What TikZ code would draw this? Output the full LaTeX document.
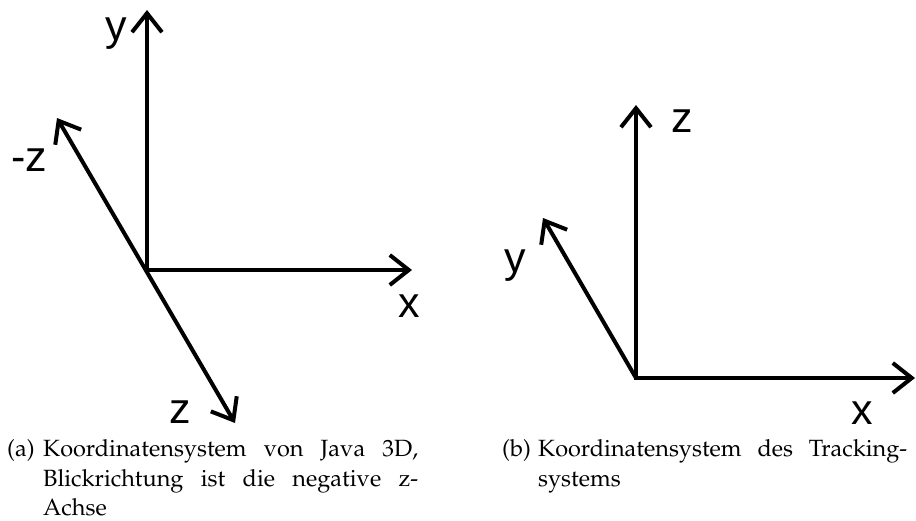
\documentclass[tikz,border=0pt]{standalone}
\usepackage[T1]{fontenc}
\usepackage{fontspec}
\newfontfamily\axisfont{Liberation Sans}
\newcommand\capfont{\fontencoding{T1}\fontfamily{ppl}\selectfont}
\usetikzlibrary{arrows.meta}
\tikzset{barb/.tip={Straight Barb[length=19pt,width=30pt]}}
\begin{document}
\begin{tikzpicture}[x=1pt,y=-1pt,
    axis/.style={line width=4pt, line join=miter},
    lbl/.style={inner sep=0pt, font=\axisfont\fontsize{43}{43}\selectfont},
    capt/.style={anchor=north west, inner sep=0pt, align=justify, font=\capfont\fontsize{23.5}{29.5}\selectfont}]
    \useasboundingbox (0,0) rectangle (916,520);
    % Java 3D
    \coordinate (o1) at (147,270);
    \coordinate (y1) at (147,10);  \coordinate (x1) at (412,270);
    \coordinate (mz1) at (57,118); \coordinate (z1) at (235,423);
    \draw[axis, barb-barb] (y1) -- (o1) -- (x1);
    \draw[axis, barb-barb] (mz1) -- (z1);
    \node[lbl] (ly1) at (116,34) {y}; \node[lbl] (lmz1) at (29,160) {-z};
    \node[lbl] (lx1) at (409,306) {x}; \node[lbl] (lz1) at (180,412) {z};
    % Tracking
    \coordinate (o2) at (636,378);
    \coordinate (z2) at (636,105); \coordinate (x2) at (915,378);
    \coordinate (y2) at (543,218);
    \draw[axis, barb-barb] (z2) -- (o2) -- (x2);
    \draw[axis, -barb] (o2) -- (y2);
    \node[lbl] (lz2) at (682,121) {z}; \node[lbl] (ly2) at (515,266) {y};
    \node[lbl] (lx2) at (862,413) {x};
    % captions
    \node[capt] (tag1) at (7,436) {\strut(a)};
    \node[capt, text width=375pt] (cap1) at (43,436) {\strut Koordinatensystem von Java 3D,\linebreak
      Blickrichtung ist die negative z-\linebreak Achse};
    \node[capt] (tag2) at (502,436) {\strut(b)};
    \node[capt, text width=369pt] (cap2) at (538,436) {\strut Koordinatensystem des Tracking-\linebreak systems};
  \end{tikzpicture}
\end{document}
